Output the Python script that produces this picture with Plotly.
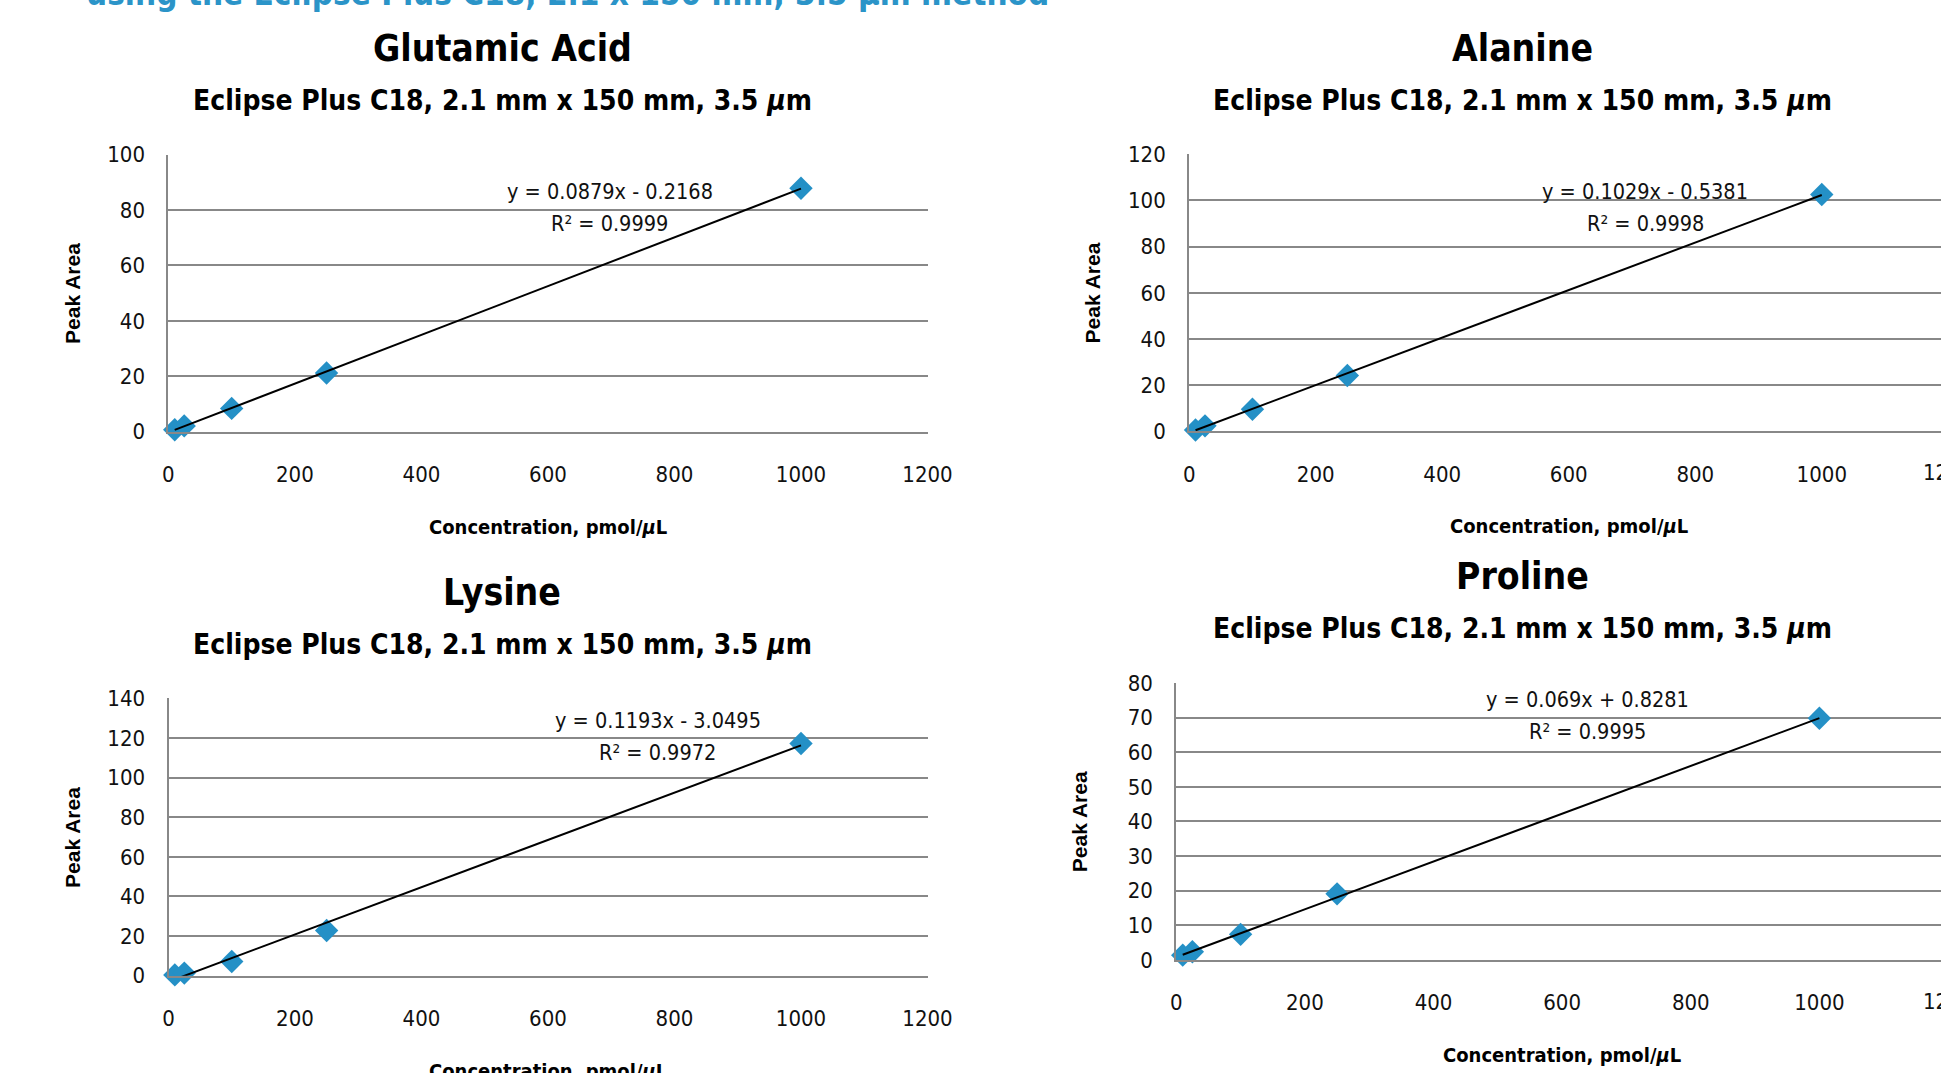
import plotly.graph_objects as go

W, H = 1941, 1073

# ---------------- data ----------------
conc = [10, 25, 100, 250, 1000]
panel_titles = ["Glutamic Acid", "Alanine", "Lysine", "Proline"]
glu_area = [0.7, 2.1, 8.4, 21.2, 87.8]
ala_area = [0.6, 2.4, 9.6, 24.2, 102.6]
lys_area = [0.4, 1.3, 7.2, 22.8, 117.2]
pro_area = [1.4, 2.4, 7.4, 19.1, 69.8]
areas = [glu_area, ala_area, lys_area, pro_area]
slopes = [0.0879, 0.1029, 0.1193, 0.069]
intercepts = [-0.2168, -0.5381, -3.0495, 0.8281]
eq_labels = ["y = 0.0879x - 0.2168", "y = 0.1029x - 0.5381",
             "y = 0.1193x - 3.0495", "y = 0.069x + 0.8281"]
r2_labels = ["R² = 0.9999", "R² = 0.9998", "R² = 0.9972", "R² = 0.9995"]
y_max = [100, 120, 140, 80]
y_step = [20, 20, 20, 10]
x_ticks = [0, 200, 400, 600, 800, 1000, 1200]
x_max = 1200
subtitle = "Eclipse Plus C18, 2.1 mm x 150 mm, 3.5 <i>μ</i>m"
x_title = "Concentration, pmol/<i>μ</i>L"
y_title = "Peak Area"
heading = "using the Eclipse Plus C18, 2.1 x 150 mm, 3.5 μm method"

# ---------------- style / geometry (pixels) ----------------
COND = "Liberation Sans Narrow, Arial Narrow, DejaVu Sans Condensed, sans-serif"
WIDE = "Liberation Sans, Arial, sans-serif"
BLUE = "#2490C6"
GRID = "#888888"
TXT = "#111111"
# (left px of x=0, px of x=1200, top px, bottom px)
panels = [
    (168.4, 927.5, 154.5, 431.7),
    (1189.2, 1948.3, 154.3, 431.4),
    (168.5, 927.5, 698.3, 975.7),
    (1176.3, 1948.0, 682.9, 960.0),
]
eq_pos = [(609.5, 191.7), (1645.0, 191.0), (657.9, 720.0), (1587.5, 699.9)]
R2_DY = 32
TICK_SIZE = 22


def px(x):
    return x / W


def py(y):
    return 1 - y / H


fig = go.Figure()
annotations = []

for i in range(4):
    l, r, t, b = panels[i]
    r_vis = min(r, W)
    xr = x_max * (r_vis - l) / (r - l)
    sfx = "" if i == 0 else str(i + 1)
    xa, ya = "x" + sfx, "y" + sfx

    fig.add_trace(go.Scatter(
        x=conc, y=areas[i], mode="markers", xaxis=xa, yaxis=ya,
        marker=dict(symbol="diamond", size=18, color=BLUE, line=dict(width=0)),
        cliponaxis=False, hoverinfo="x+y"))
    fx = [conc[0], conc[-1]]
    fy = [slopes[i] * v + intercepts[i] for v in fx]
    fig.add_trace(go.Scatter(
        x=fx, y=fy, mode="lines", xaxis=xa, yaxis=ya,
        line=dict(color="black", width=2), hoverinfo="skip"))

    fig.layout["xaxis" + sfx] = dict(
        domain=[px(l), px(r_vis)], range=[0, xr], anchor=ya,
        tickvals=x_ticks, showgrid=False, zeroline=False,
        showline=True, linecolor=GRID, linewidth=2, ticks="",
        ticklabelstandoff=22,
        tickfont=dict(family=COND, size=TICK_SIZE, color=TXT), automargin=False)
    fig.layout["yaxis" + sfx] = dict(
        domain=[py(b), py(t)], range=[0, y_max[i]], anchor=xa,
        dtick=y_step[i], tick0=0, showgrid=True, gridcolor=GRID, gridwidth=2,
        zeroline=False, showline=True, linecolor=GRID, linewidth=2, ticks="",
        ticklabelstandoff=17,
        tickfont=dict(family=COND, size=TICK_SIZE, color=TXT), automargin=False)

    if r > W:
        annotations.append(dict(
            text=str(x_ticks[-1]), x=px(r), y=py(b + 41),
            font=dict(family=COND, size=TICK_SIZE, color=TXT)))

    tcx = 502 if i % 2 == 0 else 1522
    annotations += [
        dict(text="<b>" + panel_titles[i] + "</b>", x=px(tcx), y=py(t - 106),
             font=dict(family=COND, size=37, color="black")),
        dict(text="<b>" + subtitle + "</b>", x=px(tcx), y=py(t - 54),
             font=dict(family=COND, size=28, color="black")),
        dict(text="<b>" + x_title + "</b>", x=px((l + r) / 2), y=py(b + 95),
             font=dict(family=COND, size=20, color="black")),
        dict(text="<b>" + y_title + "</b>", x=px(l - 96.6), y=py((t + b) / 2),
             textangle=-90, font=dict(family=WIDE, size=21, color="black")),
        dict(text=eq_labels[i], x=px(eq_pos[i][0]), y=py(eq_pos[i][1]),
             font=dict(family=COND, size=21.5, color=TXT)),
        dict(text=r2_labels[i], x=px(eq_pos[i][0]), y=py(eq_pos[i][1] + R2_DY),
             font=dict(family=COND, size=21.5, color=TXT)),
    ]

annotations.append(dict(text="<b>" + heading + "</b>", x=px(567), y=py(-6.5),
                        font=dict(family=COND, size=33, color="#2B94C8")))

for a in annotations:
    a.setdefault("xref", "paper")
    a.setdefault("yref", "paper")
    a.setdefault("xanchor", "center")
    a.setdefault("yanchor", "middle")
    a.setdefault("showarrow", False)

fig.update_layout(
    width=W, height=H, margin=dict(l=0, r=0, t=0, b=0),
    paper_bgcolor="white", plot_bgcolor="white", showlegend=False,
    annotations=annotations)

fig.write_html("out.html")
